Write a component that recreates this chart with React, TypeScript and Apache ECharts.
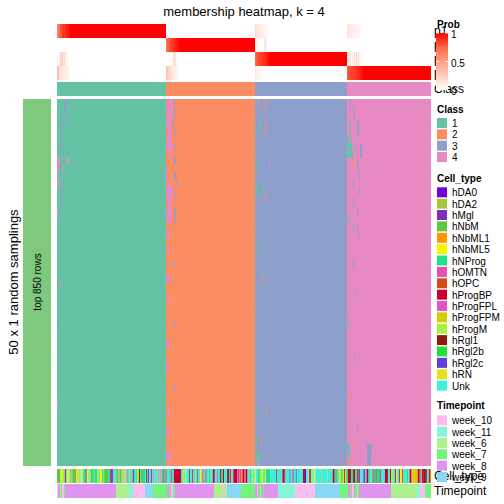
import { useEffect, useRef } from "react";
import * as echarts from "echarts";

// ---------- texts ----------
const titleText = "membership heatmap, k = 4";
const rowSplitLabel = "top 850 rows";
const samplingLabel = "50 x 1 random samplings";

// ---------- classes ----------
const classLabels = ["1", "2", "3", "4"];
const classColors = ["#66C2A5", "#FC8D62", "#8DA0CB", "#E78AC3"];
const classCounts = [109, 89, 92, 84];
const samplingRows = 50;

// ---------- membership probabilities ----------
const probRowLabels = ["p1", "p2", "p3", "p4"];
const probTickValues = [1, 0.5, 0];
const probTickLabels = ["1", "0.5", "0"];
const probStops = ["#FFFFFF", "#FFCFBF", "#FF9E81", "#FF6846", "#FF0000"];
// first (least certain) columns of each class block: [p1, p2, p3, p4]
const class1ProbHead = [
  [0.62, 0, 0.05, 0.33], [0.68, 0, 0.02, 0.3], [0.72, 0, 0.08, 0.2], [0.8, 0, 0.25, 0.12],
  [0.82, 0, 0.18, 0.15], [0.85, 0, 0.28, 0.1], [0.88, 0, 0.12, 0.12], [0.86, 0, 0.2, 0.08],
  [0.9, 0, 0.1, 0.15], [0.92, 0, 0.06, 0.1], [0.93, 0, 0.04, 0.06], [0.95, 0, 0.02, 0.08],
  [0.97, 0, 0, 0.03],
];
const class2ProbHead = [
  [0, 0.72, 0, 0.3], [0, 0.75, 0, 0.28], [0, 0.78, 0.03, 0.22], [0, 0.8, 0, 0.2],
  [0, 0.82, 0.02, 0.18], [0, 0.85, 0, 0.15], [0, 0.86, 0.05, 0.12], [0, 0.88, 0.15, 0.1],
  [0, 0.9, 0.22, 0.12], [0, 0.91, 0.12, 0.06], [0, 0.93, 0.05, 0.08], [0, 0.95, 0.02, 0.03],
  [0, 0.97, 0, 0.02], [0, 0.98, 0, 0],
];
const class3ProbHead = [
  [0.18, 0.1, 0.75, 0.1], [0.15, 0.05, 0.78, 0.08], [0.12, 0.04, 0.8, 0.06], [0.14, 0.02, 0.82, 0.04],
  [0.1, 0, 0.84, 0.05], [0.12, 0.02, 0.85, 0.03], [0.08, 0, 0.86, 0.02], [0.1, 0, 0.87, 0.03],
  [0.06, 0, 0.88, 0], [0.05, 0.12, 0.88, 0], [0.08, 0.15, 0.9, 0], [0.04, 0.08, 0.92, 0],
  [0.03, 0, 0.94, 0], [0.02, 0, 0.96, 0], [0, 0, 0.98, 0],
];
const class4ProbHead = [
  [0.15, 0, 0.12, 0.78], [0.12, 0, 0.1, 0.8], [0.14, 0, 0.08, 0.82], [0.1, 0, 0.12, 0.83],
  [0.12, 0, 0.06, 0.84], [0.08, 0, 0.1, 0.85], [0.1, 0, 0.05, 0.86], [0.06, 0, 0.18, 0.84],
  [0.08, 0, 0.04, 0.87], [0.05, 0, 0.22, 0.88], [0.06, 0, 0.08, 0.9], [0.04, 0, 0.2, 0.9],
  [0.05, 0, 0.06, 0.92], [0.02, 0, 0.03, 0.94], [0.02, 0, 0.04, 0.95], [0, 0, 0.02, 0.97],
  [0, 0, 0, 0.98],
];
const probHeads = [class1ProbHead, class2ProbHead, class3ProbHead, class4ProbHead];

// ---------- sampling matrix: cells whose class differs from the consensus ----------
// [row, column, width, class]
const samplingDeviations: number[][] = [
  [0, 7, 3, 3], [1, 7, 2, 3], [2, 3, 1, 3], [2, 9, 1, 3], [3, 4, 2, 3], [4, 3, 1, 3], [5, 5, 1, 3],
  [6, 4, 2, 3], [7, 6, 1, 3], [7, 9, 1, 3], [8, 0, 3, 4], [8, 3, 1, 3], [8, 10, 2, 4], [9, 0, 2, 4],
  [9, 6, 1, 4], [10, 1, 1, 4], [11, 0, 2, 4], [11, 6, 1, 3], [12, 4, 2, 3], [13, 5, 1, 3], [14, 3, 1, 3],
  [15, 0, 1, 4], [16, 4, 1, 3], [20, 2, 1, 3], [25, 3, 1, 4], [30, 1, 1, 3], [35, 4, 1, 3], [41, 0, 1, 4],
  [47, 2, 1, 3],
  [0, 110, 6, 4], [0, 117, 1, 3], [1, 109, 7, 4], [1, 117, 1, 3], [2, 110, 6, 4], [2, 118, 1, 3],
  [3, 109, 5, 4], [3, 116, 1, 3], [4, 111, 4, 4], [4, 117, 1, 3], [5, 110, 5, 4], [6, 109, 7, 4],
  [6, 117, 1, 3], [7, 112, 3, 4], [8, 117, 2, 3], [9, 110, 1, 4], [10, 109, 2, 4], [10, 117, 2, 3],
  [11, 111, 2, 4], [11, 119, 1, 3], [12, 109, 8, 4], [13, 110, 5, 4], [13, 117, 1, 3], [14, 111, 3, 4],
  [15, 109, 6, 4], [15, 117, 2, 3], [16, 110, 5, 4], [16, 117, 1, 3], [18, 110, 3, 4], [20, 111, 2, 4],
  [22, 117, 1, 3], [24, 109, 4, 4], [27, 112, 2, 4], [30, 117, 1, 3], [33, 110, 3, 4], [36, 109, 2, 4],
  [39, 117, 1, 3], [42, 111, 2, 4], [45, 110, 3, 4], [48, 109, 5, 4], [49, 112, 2, 4],
  [0, 201, 1, 4], [0, 208, 1, 2], [1, 208, 1, 2], [3, 198, 1, 1], [3, 201, 1, 1], [3, 203, 1, 1],
  [3, 208, 1, 2], [4, 198, 2, 1], [4, 208, 1, 2], [7, 198, 1, 1], [8, 199, 1, 1], [8, 212, 1, 4],
  [9, 198, 2, 1], [11, 198, 2, 1], [11, 203, 1, 1], [12, 198, 3, 1], [12, 206, 1, 1], [13, 198, 1, 1],
  [13, 208, 1, 2], [17, 198, 1, 1], [20, 199, 1, 1], [20, 203, 1, 1], [24, 198, 1, 1], [24, 205, 1, 2],
  [28, 198, 1, 1], [33, 200, 1, 1], [37, 198, 2, 1], [42, 199, 1, 1], [42, 209, 1, 2], [46, 198, 2, 1],
  [46, 204, 1, 2], [48, 198, 4, 1], [48, 205, 1, 1], [49, 199, 2, 1], [49, 201, 1, 4],
  [0, 293, 1, 3], [1, 296, 1, 3], [2, 297, 1, 3], [3, 293, 1, 1], [3, 300, 2, 3], [4, 293, 1, 1],
  [4, 300, 2, 3], [5, 290, 2, 1], [5, 294, 1, 1], [6, 290, 5, 1], [6, 298, 1, 1], [6, 303, 2, 3],
  [7, 290, 6, 1], [7, 303, 2, 3], [8, 296, 2, 2], [8, 300, 1, 3], [9, 301, 1, 3], [10, 302, 1, 3],
  [11, 296, 1, 3], [12, 302, 1, 3], [14, 296, 1, 3], [15, 300, 1, 3], [16, 292, 1, 1], [17, 296, 1, 3],
  [17, 300, 1, 3], [18, 301, 1, 3], [22, 296, 1, 3], [26, 299, 1, 3], [30, 291, 1, 1], [35, 297, 1, 3],
  [40, 294, 1, 2], [44, 300, 1, 3], [47, 290, 3, 1], [47, 296, 1, 2], [47, 310, 5, 3], [48, 291, 2, 1],
  [48, 310, 4, 3], [49, 290, 2, 2], [49, 310, 4, 3],
];

// ---------- cell type annotation ----------
const cellTypeLabels = [
  "hDA0", "hDA2", "hMgl", "hNbM", "hNbML1", "hNbML5", "hNProg", "hOMTN", "hOPC",
  "hProgBP", "hProgFPL", "hProgFPM", "hProgM", "hRgl1", "hRgl2b", "hRgl2c", "hRN", "Unk",
];
const cellTypeColors = [
  "#7200DA", "#A6C83C", "#7B2FBE", "#5DC840", "#FF9400", "#F5F500", "#1DE38A", "#E74EB2", "#D54C1A",
  "#C9002F", "#E452C8", "#D6CE00", "#A8F040", "#901A12", "#22E03C", "#5E3ED8", "#E4E01E", "#3CF0DC",
];
const cellTypeCodes = "abcdefghijklmnopqu";
const cellTypeByColumn =
  "dddmfmmbaufmmgeddddfemmufdggafmmuddgudgmmuffdudddd" +
  "ggajauudggedduemmuhgueuuagugmmjuddggujgaugauhuuduh" +
  "uhggjunuuuujuujjjj" +
  "jjjuuqufuuujuujuouujuuqqjuujuugguujjuuhuujggjuuujj" +
  "gjuujjjjhjkjejjhjjuuggfuufuuggmmfuufgggguuuuuujuuu" +
  "uujjnuuuupuujuupuuuuuujj" +
  "auufcpmmufuuuuuguuuuuguuuuujjgggeufggfjfggjjnggjjg" +
  "gjpjuuuppujjgguujggjgggjuuuujjjuujmmuujfuujffjuuug" +
  "gujjellllljjiujjnnjuuje";

// ---------- timepoint annotation ----------
const timepointLabels = ["week_10", "week_11", "week_6", "week_7", "week_8", "week_9"];
const timepointColors = ["#FDBCEF", "#86F4D6", "#ABF28D", "#73F57B", "#E094F0", "#87D8F4"];
// [timepoint index, number of columns]
const timepointRuns: number[][] = [
  [0, 1], [4, 2], [2, 1], [3, 1], [0, 2], [3, 1], [4, 51], [2, 13], [1, 4], [0, 12], [5, 8], [3, 13],
  [4, 1], [3, 1], [4, 1], [3, 1], [4, 1], [0, 2], [3, 2], [4, 39], [2, 9], [0, 1], [2, 1], [0, 1],
  [2, 1], [5, 14], [3, 14], [4, 2], [0, 1], [4, 1], [3, 1], [2, 1], [3, 1], [4, 1], [3, 1], [4, 14],
  [1, 17], [0, 20], [5, 25], [3, 8], [4, 2], [3, 1], [4, 1], [0, 2], [4, 1], [3, 2], [2, 1], [3, 1],
  [4, 32], [2, 26], [1, 3], [0, 5], [3, 6],
];

const rowSplitColor = "#7FC97F";
const FONT = "'Liberation Sans', Arial, Helvetica, sans-serif";

// ---------- helpers ----------
function hexToRgb(h: string) {
  return [parseInt(h.slice(1, 3), 16), parseInt(h.slice(3, 5), 16), parseInt(h.slice(5, 7), 16)];
}
function probColor(v: number) {
  const t = Math.max(0, Math.min(1, v)) * (probStops.length - 1);
  const i = Math.min(probStops.length - 2, Math.floor(t));
  const f = t - i;
  const a = hexToRgb(probStops[i]);
  const b = hexToRgb(probStops[i + 1]);
  const c = a.map((x, k) => Math.round(x + (b[k] - x) * f));
  return `rgb(${c[0]},${c[1]},${c[2]})`;
}

const classStarts = classCounts.map((_, i) => classCounts.slice(0, i).reduce((a, b) => a + b, 0));
const nCols = classCounts.reduce((a, b) => a + b, 0);

function makeRenderer(colorOf: (k: number) => string) {
  return (_params: any, api: any) => {
    const p0 = api.coord([api.value(0), api.value(2)]);
    const p1 = api.coord([api.value(1), api.value(3)]);
    return {
      type: "rect",
      shape: {
        x: Math.min(p0[0], p1[0]),
        y: Math.min(p0[1], p1[1]),
        width: Math.abs(p1[0] - p0[0]),
        height: Math.abs(p1[1] - p0[1]),
      },
      style: { fill: colorOf(api.value(4)), stroke: null },
    };
  };
}

function buildOption() {
  // layout
  const L = 57;
  const W = 374;
  const bands = [
    { top: 24, height: 56, xMax: nCols, yMax: 4 },
    { top: 82, height: 14, xMax: nCols, yMax: 1 },
    { top: 99, height: 367, xMax: nCols, yMax: samplingRows },
    { top: 469, height: 14, xMax: cellTypeByColumn.length, yMax: 1 },
    { top: 484, height: 14, xMax: timepointRuns.reduce((a, r) => a + r[1], 0), yMax: 1 },
  ];

  // data
  const probData: number[][] = [];
  classCounts.forEach((n, c) => {
    const s = classStarts[c];
    const head = probHeads[c];
    head.forEach((col, j) => {
      col.forEach((p, r) => {
        if (p > 0) probData.push([s + j, s + j + 1, r, r + 1, p]);
      });
    });
    probData.push([s + head.length, s + n, c, c + 1, 1]);
  });

  const classData = classCounts.map((n, c) => [classStarts[c], classStarts[c] + n, 0, 1, c]);

  const matrixData: number[][] = classCounts.map((n, c) => [
    classStarts[c], classStarts[c] + n, 0, samplingRows, c,
  ]);
  samplingDeviations.forEach(([row, col, w, cls]) => {
    matrixData.push([col, col + w, row, row + 1, cls - 1]);
  });

  const cellData: number[][] = [];
  for (let i = 0; i < cellTypeByColumn.length; i++) {
    const k = cellTypeCodes.indexOf(cellTypeByColumn[i]);
    const last = cellData[cellData.length - 1];
    if (last && last[4] === k && last[1] === i) last[1] = i + 1;
    else cellData.push([i, i + 1, 0, 1, k]);
  }

  const timeData: number[][] = [];
  let pos = 0;
  timepointRuns.forEach(([k, n]) => {
    timeData.push([pos, pos + n, 0, 1, k]);
    pos += n;
  });

  const seriesDefs = [
    { data: probData, color: (v: number) => probColor(v) },
    { data: classData, color: (k: number) => classColors[k] },
    { data: matrixData, color: (k: number) => classColors[k] },
    { data: cellData, color: (k: number) => cellTypeColors[k] },
    { data: timeData, color: (k: number) => timepointColors[k] },
  ];

  const graphic: any[] = [];
  const text = (x: number, y: number, t: string, size: number, opts: any = {}) => ({
    type: "text",
    x,
    y,
    z: opts.z ?? 10,
    rotation: opts.rotation ?? 0,
    style: {
      text: t,
      fontSize: size,
      fontFamily: FONT,
      fontWeight: opts.bold ? "bold" : "normal",
      fill: "#000",
      align: opts.align ?? "left",
      verticalAlign: "middle",
    },
  });

  graphic.push(text(L + W / 2, 11, titleText, 13, { align: "center" }));
  graphic.push(text(13, 282, samplingLabel, 13, { align: "center", rotation: Math.PI / 2 }));
  graphic.push({
    type: "rect",
    z: 5,
    shape: { x: 23, y: 99, width: 28, height: 367 },
    style: { fill: rowSplitColor },
  });
  graphic.push(text(37, 282, rowSplitLabel, 10, { align: "center", rotation: Math.PI / 2 }));

  // annotation names (under the legend)
  probRowLabels.forEach((t, r) => graphic.push(text(434, 31 + r * 14, t, 12, { z: 3 })));
  graphic.push(text(434, 89, "Class", 12, { z: 3 }));
  graphic.push(text(434, 476, "Cell_type", 12, { z: 3 }));
  graphic.push(text(434, 491, "Timepoint", 12, { z: 3 }));

  // Prob legend
  const cbTop = 33;
  const cbH = 57;
  graphic.push(text(437, 24.5, "Prob", 10, { bold: true }));
  graphic.push({
    type: "rect",
    z: 10,
    shape: { x: 436, y: cbTop, width: 12, height: cbH },
    style: {
      fill: new echarts.graphic.LinearGradient(0, 0, 0, 1, probStops
        .slice()
        .reverse()
        .map((c, i) => ({ offset: i / (probStops.length - 1), color: c }))),
    },
  });
  probTickValues.forEach((v, i) => {
    const y = cbTop + (1 - v) * cbH;
    graphic.push({ type: "line", z: 11, shape: { x1: 436, y1: y, x2: 439, y2: y }, style: { stroke: "#fff", lineWidth: 1 } });
    graphic.push({ type: "line", z: 11, shape: { x1: 445, y1: y, x2: 448, y2: y }, style: { stroke: "#fff", lineWidth: 1 } });
    graphic.push(text(451, y + 1.5, probTickLabels[i], 10, { z: 12 }));
  });

  const legendBlock = (titleY: number, boxTop: number, step: number, labels: string[], colors: string[], title: string) => {
    graphic.push(text(437, titleY, title, 10, { bold: true }));
    labels.forEach((l, i) => {
      const y = boxTop + i * step;
      graphic.push({ type: "rect", z: 10, shape: { x: 437, y, width: 10, height: 10 }, style: { fill: colors[i] } });
      graphic.push(text(452, y + 5.5, l, 10));
    });
  };
  legendBlock(109, 118, 11.35, classLabels, classColors, "Class");
  legendBlock(178, 187.3, 11.37, cellTypeLabels, cellTypeColors, "Cell_type");
  legendBlock(405.5, 415.3, 11.34, timepointLabels, timepointColors, "Timepoint");

  return {
    animation: false,
    backgroundColor: "#ffffff",
    grid: bands.map((b) => ({ left: L, top: b.top, width: W, height: b.height, outerBoundsMode: "none", containLabel: false })),
    xAxis: bands.map((b, i) => ({ type: "value", gridIndex: i, min: 0, max: b.xMax, show: false })),
    yAxis: bands.map((b, i) => ({ type: "value", gridIndex: i, min: 0, max: b.yMax, inverse: true, show: false })),
    series: seriesDefs.map((s, i) => ({
      type: "custom",
      xAxisIndex: i,
      yAxisIndex: i,
      dimensions: ["x0", "x1", "y0", "y1", "k"],
      encode: { x: [0, 1], y: [2, 3] },
      renderItem: makeRenderer(s.color),
      data: s.data,
      progressive: 0,
      silent: true,
    })),
    graphic: { elements: graphic },
  };
}

export default function App() {
  const ref = useRef<HTMLDivElement>(null);
  useEffect(() => {
    const chart = echarts.init(ref.current!, null, { renderer: "svg" });
    chart.setOption(buildOption() as any);
    return () => chart.dispose();
  }, []);
  return (
    <div
      ref={ref}
      style={{ position: "absolute", left: 0, top: 0, width: 504, height: 504, background: "#fff" }}
    />
  );
}
